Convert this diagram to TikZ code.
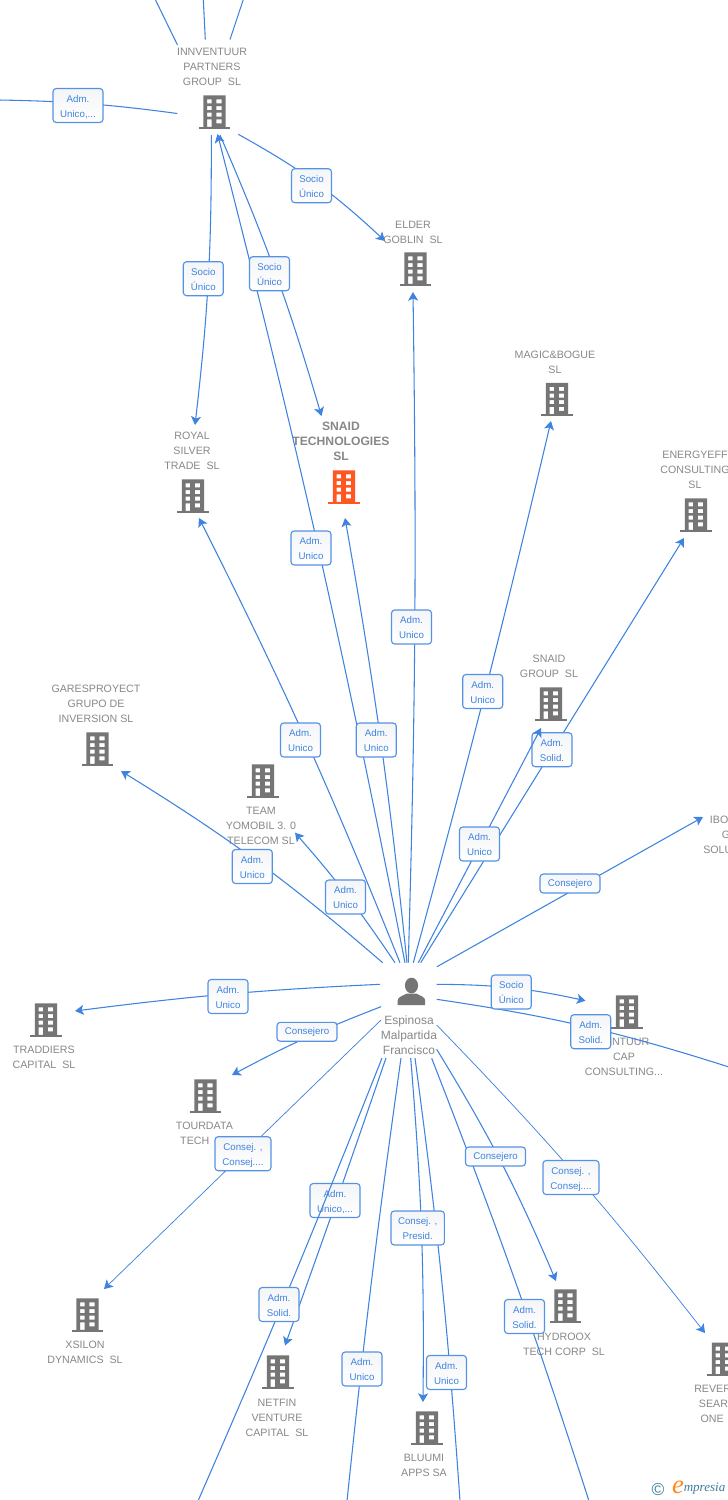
\documentclass[tikz,border=0pt]{standalone}
\usepackage{fontspec}
\setmainfont{Liberation Sans}
\newfontfamily\serifit{Liberation Serif}
\usetikzlibrary{arrows.meta}
\definecolor{linkblue}{HTML}{3F83E0}
\definecolor{boxblue}{HTML}{5592E6}
\definecolor{nametext}{HTML}{888888}
\definecolor{iconGray}{HTML}{757575}
\definecolor{iconOrange}{HTML}{FF5722}
\definecolor{wmTeal}{HTML}{3F7F9F}
\definecolor{wmOrange}{HTML}{FF8A1E}
\definecolor{boxTop}{HTML}{F4F5F7}
\tikzset{
  x=0.75pt,y=-0.75pt,
  link/.style={draw=linkblue,line width=0.8pt},
  thinlink/.style={draw=linkblue,line width=0.55pt},
  arr/.style={-{Stealth[length=6.5pt,width=7.5pt,inset=1.6pt]}},
  lab/.style={draw=boxblue,line width=0.85pt,rounded corners=2.4pt,top color=boxTop,bottom color=white,
    text=linkblue,align=center,font=\fontsize{7.3}{11.25}\selectfont,inner xsep=0pt,inner ysep=0pt,
    text height=18pt,text depth=0.4pt,minimum width=30pt,minimum height=25.5pt},
  lab50/.style={lab,minimum width=37.5pt},
  lab53/.style={lab,minimum width=40pt},
  lab56/.style={lab,minimum width=42pt},
  labone/.style={lab,text height=5.3pt,text depth=0.7pt,minimum width=45pt,minimum height=14.2pt},
  nm/.style={text=nametext,align=center,font=\fontsize{8}{11.25}\selectfont,inner sep=0pt,yshift=-0.6pt},
  nmleft/.style={nm,align=left,anchor=west},
  nmbold/.style={nm,font=\fontsize{9.1}{11.25}\selectfont\bfseries},
  hubicon/.style={fill=iconGray,draw=none},
}
% building icon: name, centre x, centre y, colour
\newcommand\bld[4]{%
  \node[inner sep=0pt,minimum width=24pt,minimum height=25pt] (#1) at (#2,#3) {};
  \begin{scope}[shift={(#2,#3)}]
    \fill[#4,even odd rule] (-11.2,-16.7) rectangle (11.2,14.8)
      (-7.5,-12.7) rectangle (-2.8,-8.7) (1.8,-12.7) rectangle (7.2,-8.7)
      (-7.5,-6) rectangle (-2.8,-2) (1.8,-6) rectangle (7.2,-2)
      (-7.5,.7) rectangle (-2.8,4.7) (1.8,.7) rectangle (7.2,4.7)
      (-7.5,7.3) rectangle (-2.8,14.8) (1.8,7.3) rectangle (7.2,11.3);
    \fill[#4] (-15.8,14.8) rectangle (15.8,16.8);
  \end{scope}}
% link: id, start, end, bend, draw options, label position, label style, label text
\newcommand\lnk[8]{%
  \coordinate (#1-a) at (#2);
  \coordinate (#1-b) at (#3);
  \draw[link,#5] (#1-a) to[#4] (#1-b);
  \node[#7] (#1) at (#6) {#8};}
\begin{document}
\begin{tikzpicture}
\useasboundingbox[fill=white] (0,0) rectangle (728,1500);
% buildings
\bld{innv}{214.5}{112}{iconGray}
\bld{elder}{415.5}{269}{iconGray}
\bld{magic}{557}{399.5}{iconGray}
\bld{energy}{696}{515}{iconGray}
\bld{sgroup}{551}{704}{iconGray}
\bld{stech}{344}{487}{iconOrange}
\bld{royal}{193}{496}{iconGray}
\bld{gares}{97.5}{749}{iconGray}
\bld{team}{263}{781}{iconGray}
\bld{tradd}{46}{1020}{iconGray}
\bld{tourd}{205.5}{1096}{iconGray}
\bld{incap}{627}{1012}{iconGray}
\bld{hydro}{565.5}{1306}{iconGray}
\bld{xsilon}{87.5}{1315}{iconGray}
\bld{netfin}{278}{1372}{iconGray}
\bld{bluumi}{427}{1428}{iconGray}
\bld{rever}{723}{1359.4}{iconGray}
% names
\node[nm] (tinnv) at (212,66) {INNVENTUUR\\PARTNERS\\GROUP\ \ SL};
\node[nm] (telder) at (413,231.5) {ELDER\\GOBLIN\ \ SL};
\node[nm] (tmagic) at (555,361.5) {MAGIC\&BOGUE\\SL};
\node[nm] (tenergy) at (695,469) {ENERGYEFF\\CONSULTING\\SL};
\node[nm] (tsgroup) at (549,665.5) {SNAID\\GROUP\ \ SL};
\node[nmbold] (tstech) at (341,441) {SNAID\\TECHNOLOGIES\\SL};
\node[nm] (troyal) at (192,450) {ROYAL\\SILVER\\TRADE\ \ SL};
\node[nm] (tgares) at (96,703) {GARESPROYECT\\GRUPO DE\\INVERSION SL};
\node[nm] (tteam) at (261,825) {TEAM\\YOMOBIL 3. 0\\TELECOM SL};
\node[nmleft] (tibo) at (703,834) {\hspace*{5pt}IBO\\\hspace*{14pt}G\\SOLU};
\node[nm] (ttradd) at (44,1056.5) {TRADDIERS\\CAPITAL\ \ SL};
\node[nmleft] (ttourd) at (175.7,1132.5) {TOURDATA\\\hspace*{3.2pt}TECH};
\node[nm] (tincap) at (624,1056) {\hspace*{2pt}INNTUUR\\CAP\\CONSULTING...};
\node[nm] (thydro) at (564,1343.5) {HYDROOX\\TECH CORP\ \ SL};
\node[nm] (txsilon) at (85,1351.5) {XSILON\\DYNAMICS\ \ SL};
\node[nm] (tnetfin) at (277,1417) {NETFIN\\VENTURE\\CAPITAL\ \ SL};
\node[nm] (tbluumi) at (424,1464.5) {BLUUMI\\APPS SA};
\node[nmleft] (trever) at (694,1403) {REVER\\\hspace*{3.5pt}SEAR\\\hspace*{4.7pt}ONE};
% hub
\node[inner sep=0pt,minimum width=24pt,minimum height=21pt] (hub) at (411.5,991) {};
\fill[hubicon] (411.5,985.5) ellipse (6.6 and 7.8);
\fill[hubicon] (397.7,1005) -- (397.7,1000.5) .. controls (398,997) and (402,996) .. (407,993.5)
  -- (416,993.5) .. controls (421,996) and (425,997) .. (425.2,1000.5) -- (425.2,1005) -- cycle;
\node[nm,font=\fontsize{9}{11.25}\selectfont] (thub) at (409,1034) {Espinosa\\Malpartida\\Francisco};
% top stubs
\coordinate (s1) at (155,-1); \coordinate (s1e) at (177.5,45);
\coordinate (s2) at (203.3,-1); \coordinate (s2e) at (205.3,39.5);
\coordinate (s3) at (243.5,-1); \coordinate (s3e) at (230,39.5);
\draw[link] (s1) -- (s1e);
\draw[link] (s2) -- (s2e);
\draw[link] (s3) -- (s3e);
% links around INNVENTUUR
\lnk{l1}{-1,100}{177.3,113.5}{bend left=3.3}{}{78,105.5}{lab50}{Adm.\\Unico,...}
\lnk{l2}{238.3,134.3}{385,241}{bend left=7}{arr}{311.5,185.7}{lab}{Socio\\Único}
\lnk{l3}{211.3,135}{195,425}{bend left=3.4}{arr}{203.3,278.7}{lab}{Socio\\Único}
\lnk{l5}{405,962.7}{217.5,134}{bend right=1.6}{arr}{311,548}{lab}{Adm.\\Unico}
\lnk{l4}{220,135}{321.5,416}{bend left=3.5}{arr}{269.5,273.7}{lab}{Socio\\Único}
% links from hub, upward
\lnk{u1}{382.7,962.7}{121,771}{bend right=4.5}{arr}{252.3,866.5}{lab}{Adm.\\Unico}
\lnk{u2}{395,962.7}{295,832.7}{bend right=3.6}{arr}{345.5,897}{lab}{Adm.\\Unico}
\lnk{u3}{400,962.7}{199,518}{bend right=2.4}{arr}{300.5,740}{lab}{Adm.\\Unico}
\lnk{u4}{407,962.7}{345,518}{bend right=2}{arr}{376.3,740}{lab}{Adm.\\Unico}
\lnk{u5}{408.3,962.7}{413,292}{bend right=1.2}{arr}{411.5,627}{lab}{Adm.\\Unico}
\lnk{u6}{413.3,962.7}{551,421}{bend right=1}{arr}{482.7,691.5}{lab}{Adm.\\Unico}
\lnk{u8}{420.7,962.7}{684,538}{bend left=0}{arr}{552,749.7}{lab}{Adm.\\Solid.}
\lnk{u7}{418.3,962.7}{541,728}{bend left=0}{arr}{479.5,844}{lab}{Adm.\\Unico}
\lnk{u9}{437,966.7}{703,817}{bend left=0}{arr}{570,883.5}{labone}{Consejero}
% links from hub, sideways
\lnk{r2}{436.7,999.3}{729,1067}{bend left=4.6}{}{590.7,1031.7}{lab}{Adm.\\Solid.}
\lnk{r1}{436.7,984.3}{585.5,1000.7}{bend left=6}{arr}{511.3,992}{lab}{Socio\\Único}
\lnk{w1}{380,984.3}{75,1011}{bend right=2.3}{arr}{228,996.5}{lab}{Adm.\\Unico}
\lnk{w2}{381,1006.7}{232,1075}{bend right=3.5}{arr}{307,1031.8}{labone}{Consejero}
% links from hub, downward
\lnk{d1}{381,1020}{104,1289}{bend left=0}{thinlink,arr}{243,1153.7}{lab56}{Consej. ,\\Consej....}
\lnk{d3}{386,1058}{285,1345.5}{bend left=0.4}{arr}{335,1200.5}{lab50}{Adm.\\Unico,...}
\lnk{d2}{382,1058}{198,1501}{bend left=1}{}{279,1304.5}{lab}{Adm.\\Solid.}
\lnk{d4}{401,1058}{347,1501}{bend right=1}{}{362,1369}{lab}{Adm.\\Unico}
\lnk{d6}{415,1058}{460,1501}{bend left=1.8}{}{446.5,1372.5}{lab}{Adm.\\Unico}
\lnk{d5}{410.7,1058}{423,1402}{bend left=2.6}{arr}{417.7,1228}{lab53}{Consej. ,\\Presid.}
\lnk{d7}{431.7,1058.3}{589,1501}{bend left=1.7}{}{524.5,1316.5}{lab}{Adm.\\Solid.}
\lnk{d8}{436.7,1049.3}{556,1281}{bend left=4.2}{arr}{495.5,1156.5}{labone}{Consejero}
\lnk{d9}{436.7,1025}{705,1333}{bend left=3}{thinlink,arr}{571,1177.5}{lab56}{Consej. ,\\Consej....}
% watermark
\node[inner sep=0pt,text=wmTeal,font=\fontsize{13}{13}\selectfont] (wmc) at (658,1489) {©};
\node[inner sep=0pt,text=wmOrange,font=\fontsize{20}{20}\serifit\itshape] (wme) at (678,1487) {e};
\node[inner sep=0pt,text=wmTeal,font=\fontsize{9.8}{10}\serifit\itshape,anchor=west] (wmr) at (683.5,1489) {mpresia};
\end{tikzpicture}
\end{document}
